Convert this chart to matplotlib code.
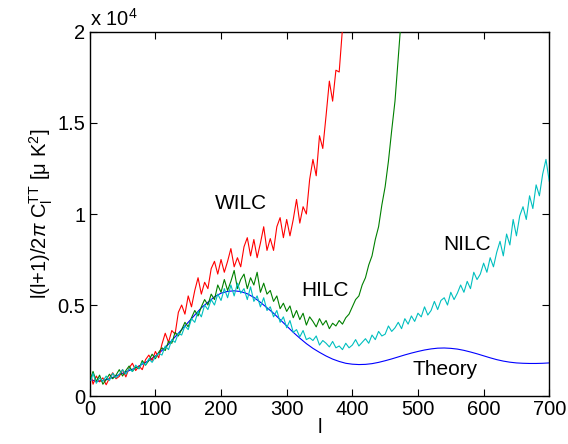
import numpy as np
import matplotlib
matplotlib.use("Agg")
import matplotlib.pyplot as plt
from matplotlib.ticker import FuncFormatter

plt.rcParams['font.family'] = ['Liberation Sans', 'DejaVu Sans']
plt.rcParams['mathtext.fontset'] = 'custom'
plt.rcParams['mathtext.rm'] = 'Liberation Sans'
plt.rcParams['mathtext.it'] = 'Liberation Sans:italic'

# ---- data ----
l_theory = [2] + list(range(10, 701, 10))
theory = [900, 800, 850, 950, 1100, 1250, 1400, 1550, 1750, 1950, 2200,
          2500, 2850, 3250, 3650, 4050, 4450, 4850, 5150, 5450, 5650,
          5750, 5780, 5740, 5620, 5420, 5150, 4850, 4550, 4200, 3850,
          3500, 3180, 2880, 2620, 2400, 2200, 2030, 1900, 1800, 1750,
          1730, 1740, 1780, 1850, 1940, 2040, 2150, 2260, 2360, 2450,
          2530, 2590, 2630, 2640, 2620, 2580, 2510, 2420, 2320, 2210,
          2100, 2000, 1920, 1860, 1820, 1800, 1790, 1790, 1800, 1820]

l_wilc = [2] + list(range(5, 401, 5))
wilc = [1150, 650, 1100, 780, 1000, 620, 980, 1280, 950, 1080, 1450,
        1050, 1550, 1800, 1400, 1650, 1450, 2000, 2250, 1950, 2450,
        2100, 2850, 3450, 2950, 3600, 3400, 4600, 5000, 4500, 5500,
        4900, 5800, 6500, 5600, 6250, 5900, 7000, 7400, 6700, 7500,
        6800, 7400, 8100, 7100, 7600, 7100, 8200, 8700, 7700, 8600,
        7600, 8400, 9300, 8000, 8650, 8000, 9300, 9800, 8700, 9700,
        8800, 9700, 10800, 9500, 10400, 10000, 11900, 13000, 12100, 14300,
        13600, 15400, 17300, 16200, 17900, 17800, 20200, 21300, 20800, 22500]

l_hilc = [2] + list(range(5, 481, 5))
hilc = [1000, 1350, 800, 1150, 650, 900, 1200, 950, 1150, 1450, 1100,
        1400, 1650, 1350, 1600, 1500, 1950, 1700, 1950, 2300, 2050,
        2400, 2650, 2500, 3000, 2900, 3500, 3300, 3650, 4050, 3800,
        4300, 4700, 4400, 4900, 5300, 5000, 5600, 5300, 6100, 5700,
        6400, 5800, 6300, 6900, 5900, 6400, 6700, 5900, 6500, 6100,
        6800, 5700, 6200, 5600, 5800, 5200, 5500, 4800, 5100, 4650,
        4950, 4300, 4700, 4200, 4550, 3900, 4350, 4100, 3800, 4250,
        3900, 4150, 3700, 4000, 3850, 4150, 3950, 4300, 4500, 4900,
        5300, 5500, 6100, 6500, 7200, 7700, 8600, 9300, 10500, 11500,
        12900, 14600, 16200, 18600, 21000, 23000]

l_nilc = [2] + list(range(5, 701, 5))
nilc = [850, 1250, 700, 1000, 800, 1100, 850, 1250, 1000, 1200, 1450,
        1200, 1500, 1350, 1700, 1500, 1850, 1700, 2050, 1850, 2150,
        2350, 2250, 2750, 2550, 3100, 2950, 3450, 3350, 3850, 3650,
        4250, 4050, 4650, 4350, 5000, 4750, 5300, 5000, 5600, 5250,
        5900, 5400, 6100, 5500, 6200, 5650, 5900, 5300, 6000, 5200,
        5500, 4900, 5400, 4700, 4900, 4350, 4700, 4050, 4350, 3750,
        4150, 3500, 3650, 3250, 3600, 3100, 3200, 3050, 3300, 2800,
        3050, 2900, 2700, 3000, 2650, 2750, 2550, 2900, 2650, 2800,
        3100, 2750, 2950, 3150, 2900, 3350, 3100, 3550, 3300, 3400,
        3850, 3550, 3750, 4050, 3700, 4250, 3950, 4400, 4100, 4550,
        4350, 4900, 4450, 4700, 5200, 4750, 5250, 5400, 5000, 5700,
        5300, 5650, 6100, 5700, 6300, 5900, 6800, 6400, 6700, 7300,
        6800, 7600, 7100, 7900, 8500, 7700, 8900, 8300, 9700, 8800,
        9900, 10400, 9700, 11000, 10300, 11600, 11000, 12200, 13000, 11800]

labels = ["WILC", "HILC", "NILC", "Theory"]
label_pos = [(230, 10600), (358, 5800), (575, 8300), (542, 1480)]

# ---- plot ----
fig = plt.figure(figsize=(5.68, 4.44), dpi=100)
ax = fig.add_axes([0.158, 0.108, 0.809, 0.820])

ax.plot(l_theory, theory, color=(0, 0, 1), lw=0.8, zorder=2)
ax.plot(l_wilc, wilc, color=(1, 0, 0), lw=0.8, zorder=3)
ax.plot(l_hilc, hilc, color=(0, 0.5, 0), lw=0.8, zorder=4)
ax.plot(l_nilc, nilc, color=(0, 0.75, 0.75), lw=0.8, zorder=5)

for lab, (x, y) in zip(labels, label_pos):
    ax.text(x, y, lab, fontsize=15, ha='center', va='center', color='black')

ax.set_xlim(0, 700)
ax.set_ylim(0, 20000)
ax.set_xticks(range(0, 701, 100))
ax.set_yticks([0, 5000, 10000, 15000, 20000])
ax.yaxis.set_major_formatter(FuncFormatter(lambda v, p: '%g' % (v / 1e4)))
ax.tick_params(direction='in', length=5, width=0.8, top=True, right=True,
               labelsize=14.5, pad=3)
for s in ax.spines.values():
    s.set_linewidth(1.0)

ax.set_xlabel('l', fontsize=14.5, labelpad=-1)
ax.set_ylabel(r'l(l+1)/2$\pi$ C$_\mathrm{l}^\mathrm{TT}$ [μ K$^2$]', fontsize=14.5, labelpad=2)
ax.text(0.0, 1.005, r'x 10$^4$', transform=ax.transAxes, fontsize=14.5,
        ha='left', va='bottom')

fig.savefig('out.png', dpi=100)
